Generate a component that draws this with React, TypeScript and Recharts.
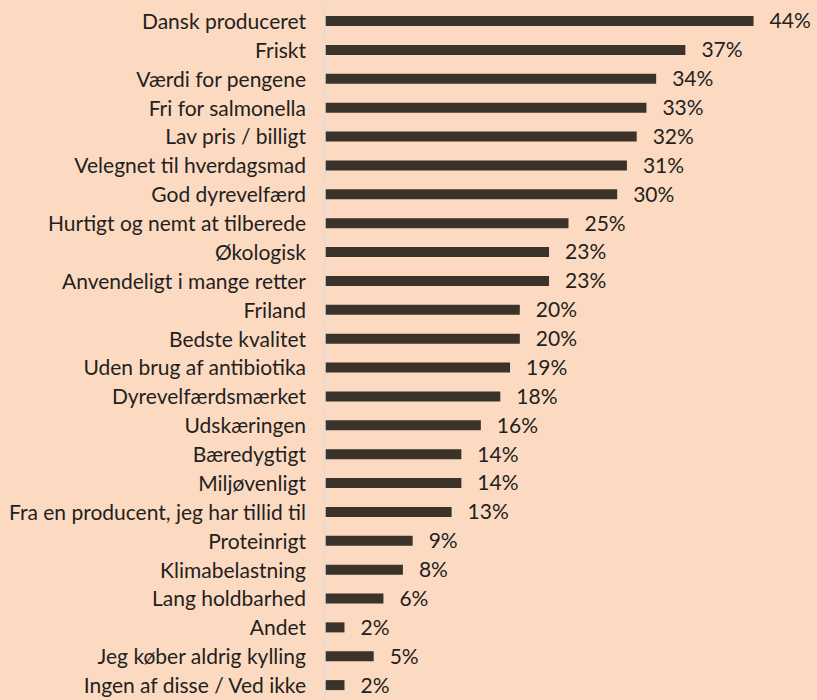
import React from 'react';
import { BarChart, Bar, XAxis, YAxis, LabelList } from 'recharts';

const categories = [
  'Dansk produceret',
  'Friskt',
  'Værdi for pengene',
  'Fri for salmonella',
  'Lav pris / billigt',
  'Velegnet til hverdagsmad',
  'God dyrevelfærd',
  'Hurtigt og nemt at tilberede',
  'Økologisk',
  'Anvendeligt i mange retter',
  'Friland',
  'Bedste kvalitet',
  'Uden brug af antibiotika',
  'Dyrevelfærdsmærket',
  'Udskæringen',
  'Bæredygtigt',
  'Miljøvenligt',
  'Fra en producent, jeg har tillid til',
  'Proteinrigt',
  'Klimabelastning',
  'Lang holdbarhed',
  'Andet',
  'Jeg køber aldrig kylling',
  'Ingen af disse / Ved ikke',
];

const shares = [44, 37, 34, 33, 32, 31, 30, 25, 23, 23, 20, 20, 19, 18, 16, 14, 14, 13, 9, 8, 6, 2, 5, 2];

const BG = '#fcdac2';
const BAR = '#3b322a';
const TEXT = '#231f20';
const FONT = 'Lato, "Open Sans", sans-serif';

const data = categories.map((name, i) => ({ name, value: shares[i] }));

export default function App() {
  return (
    <div style={{ position: 'absolute', left: 0, top: 0, width: 817, height: 700, background: BG }}>
      <BarChart
        width={817}
        height={700}
        data={data}
        layout="vertical"
        margin={{ top: 7, right: 5, bottom: 0, left: 0 }}
        barCategoryGap={0}
      >
        <XAxis type="number" domain={[0, 50]} hide />
        <YAxis
          type="category"
          dataKey="name"
          width={325}
          tickLine={false}
          axisLine={{ stroke: '#dcdcdc', strokeWidth: 1.5 }}
          tickMargin={13}
          interval={0}
          tick={{ fill: TEXT, fontSize: 21, fontFamily: FONT }}
        />
        <Bar dataKey="value" fill={BAR} barSize={10} isAnimationActive={false}>
          <LabelList
            dataKey="value"
            position="right"
            offset={16}
            formatter={(v: any) => `${v}%`}
            style={{ fill: TEXT, fontSize: 21, fontFamily: FONT }}
          />
        </Bar>
      </BarChart>
    </div>
  );
}
